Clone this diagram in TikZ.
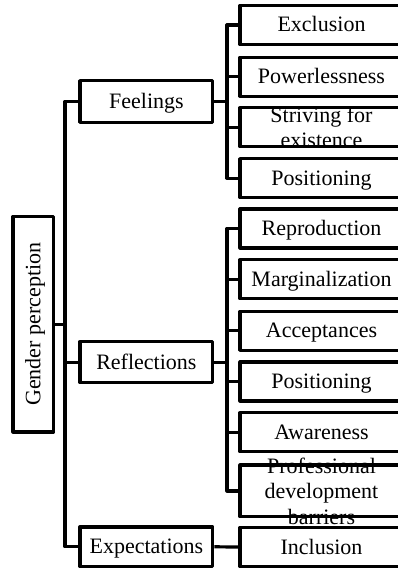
\documentclass[tikz,border=0pt]{standalone}
\usepackage{fontspec}
\setmainfont{Liberation Serif}
\begin{document}
\begin{tikzpicture}[x=1pt,y=-1pt,
  box/.style={draw, rectangle, line width=3.2pt, line join=round, inner sep=0pt},
  lbox/.style={box, minimum width=132.8pt, minimum height=41pt},
  rbox/.style={box, minimum width=163pt, minimum height=39pt},
  txt/.style={font=\fontsize{22}{25.5}\selectfont, text height=15pt, text depth=1pt},
  multi/.style={font=\fontsize{22}{25.5}\selectfont, align=center, inner sep=0pt},
  conn/.style={draw, line width=3.2pt, line join=round}]
\useasboundingbox (0,0) rectangle (398,569);
\clip (0,0) rectangle (398,569);

% bus lines
\coordinate (lbus) at (65,0);
\coordinate (rbus) at (227,0);

% root
\node[box, minimum width=40.5pt, minimum height=215.5pt] (gen) at (33.25,324.25) {};
\node[txt, inner sep=0pt, rotate=90, anchor=base] (gentxt) at (40.25,324.25) {Gender perception};

% categories
\node[lbox, txt, minimum height=41.6pt] (fee) at (146.4,101.5) {Feelings};
\node[lbox, txt] (ref) at (146.4,362.2) {Reflections};
\node[lbox, txt, minimum height=39.7pt] (exp) at (146.4,546.8) {Expectations};

% feelings
\node[rbox, txt] (exc) at (321.5,25) {Exclusion};
\node[rbox, txt] (pow) at (321.5,76.7) {Powerlessness};
\node[rbox] (str) at (321.5,127.3) {};
\node[multi] (strtxt) at (str.center) {Striving for\\existence};
\node[rbox, txt] (pos1) at (321.5,178.2) {Positioning};

% reflections
\node[rbox, txt] (rep) at (321.5,228.5) {Reproduction};
\node[rbox, txt] (mar) at (321.5,279.3) {Marginalization};
\node[rbox, txt] (acc) at (321.5,330.8) {Acceptances};
\node[rbox, txt] (pos2) at (321.5,381.5) {Positioning};
\node[rbox, txt] (awa) at (321.5,432.3) {Awareness};
\node[rbox, minimum height=51.7pt] (pro) at (321.5,490.9) {};
\node[multi] (protxt) at (pro.center) {Professional\\development\\barriers};

% expectations
\node[rbox, txt] (inc) at (321.5,547) {Inclusion};

% root to categories
\draw[conn] (fee.west) -| (lbus |- exp.west) -- (exp.west);
\draw[conn] (gen.east) -- (gen.east -| lbus);
\draw[conn] (ref.west) -- (ref.west -| lbus);

% feelings branch
\draw[conn] (exc.west) -| (rbus |- pos1.west) -- (pos1.west);
\draw[conn] (pow.west) -- (pow.west -| rbus);
\draw[conn] (str.west) -- (str.west -| rbus);
\draw[conn] (fee.east) -- (fee.east -| rbus);

% reflections branch
\draw[conn] (rep.west) -| (rbus |- pro.west) -- (pro.west);
\draw[conn] (mar.west) -- (mar.west -| rbus);
\draw[conn] (acc.west) -- (acc.west -| rbus);
\draw[conn] (pos2.west) -- (pos2.west -| rbus);
\draw[conn] (awa.west) -- (awa.west -| rbus);
\draw[conn] (ref.east) -- (ref.east -| rbus);

% expectations branch
\draw[conn] (exp.east) -- (inc.west);
\end{tikzpicture}
\end{document}
